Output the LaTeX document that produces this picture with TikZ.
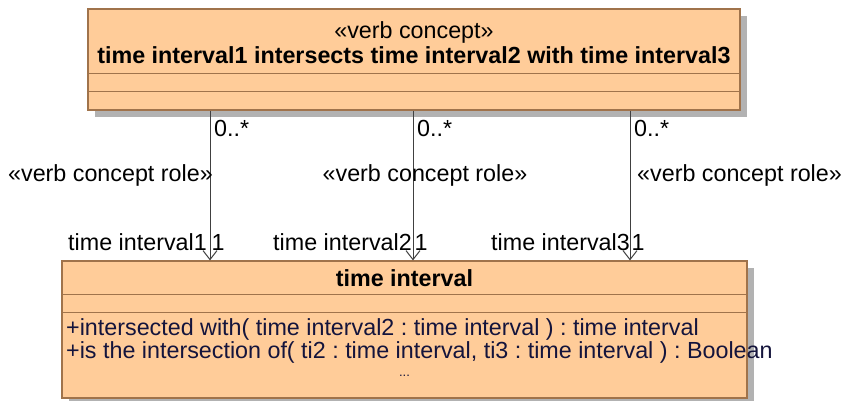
\documentclass[tikz,border=0pt]{standalone}
\usepackage{fontspec}
\setmainfont{Liberation Sans}
\usetikzlibrary{arrows.meta,shadows}
\definecolor{umlfill}{RGB}{255,204,153}
\definecolor{umlline}{RGB}{160,115,75}
\definecolor{umlshadow}{RGB}{178,178,178}
\definecolor{optext}{RGB}{20,20,60}
\definecolor{wire}{RGB}{64,64,64}
\frenchspacing
\begin{document}
\begin{tikzpicture}[x=1pt, y=-1pt,
		classbox/.style={rectangle, draw=umlline, line width=1.2pt, fill=umlfill, inner sep=0pt,
			drop shadow={shadow xshift=7pt, shadow yshift=-7pt, fill=umlshadow, opacity=1}},
		sep/.style={draw=umlline, line width=1.2pt},
		assoc/.style={draw=wire, line width=1pt, -{Straight Barb[length=9pt, width=14pt]}},
		lbl/.style={inner sep=0pt, font=\fontsize{23.3}{26}\selectfont},
		lblb/.style={inner sep=0pt, font=\fontsize{23.3}{26}\selectfont\bfseries},
		oplbl/.style={inner sep=0pt, anchor=west, text=optext, font=\fontsize{23.3}{26}\selectfont}
		]
		\useasboundingbox (0,0) rectangle (841,400);
		
		% verb concept class on top
		\node[classbox, minimum width=652pt, minimum height=101pt] (vc) at (414,59.5) {};
		\draw[sep] ([yshift=-65pt]vc.north west) -- ([yshift=-65pt]vc.north east);
		\draw[sep] ([yshift=-83pt]vc.north west) -- ([yshift=-83pt]vc.north east);
		\node[lbl] (vcst) at (414,32) {«verb concept»};
		\node[lblb] (vcname) at (414,55) {time interval1 intersects time interval2 with time interval3};
		
		% time interval class below
		\node[classbox, minimum width=685pt, minimum height=137pt] (ti) at (404.5,329.5) {};
		\draw[sep] ([yshift=-34pt]ti.north west) -- ([yshift=-34pt]ti.north east);
		\draw[sep] ([yshift=-52pt]ti.north west) -- ([yshift=-52pt]ti.north east);
		\node[lblb] (tiname) at (404.5,278) {time interval};
		\node[oplbl] (op1) at (66,329) {+intersected with( time interval2 : time interval ) : time interval};
		\node[oplbl] (op2) at (66,352) {+is the intersection of( ti2 : time interval, ti3 : time interval ) : Boolean};
		\node[inner sep=0pt, font=\fontsize{13}{15}\selectfont, text=optext] (more) at (404.5,376) {...};
		
		% role associations
		\coordinate (r1) at (210,0);
		\coordinate (r2) at (413,0);
		\coordinate (r3) at (630,0);
		\draw[assoc] (r1 |- vc.south) -- (r1 |- ti.north);
		\draw[assoc] (r2 |- vc.south) -- (r2 |- ti.north);
		\draw[assoc] (r3 |- vc.south) -- (r3 |- ti.north);
		
		% multiplicities and role names
		\node[lbl, anchor=west] (m1) at (214,128) {0..*};
		\node[lbl, anchor=west] (m2) at (417,128) {0..*};
		\node[lbl, anchor=west] (m3) at (634,128) {0..*};
		\node[lbl, anchor=east] (s1) at (213,175) {«verb concept role»};
		\node[lbl] (s2) at (425,175) {«verb concept role»};
		\node[lbl, anchor=west] (s3) at (637,175) {«verb concept role»};
		\node[lbl, anchor=east] (n1) at (207,242) {time interval1};
		\node[lbl, anchor=east] (n2) at (412,242) {time interval2};
		\node[lbl, anchor=east] (n3) at (630,242) {time interval3};
		\node[lbl] (c1) at (218,242) {1};
		\node[lbl] (c2) at (421,242) {1};
		\node[lbl] (c3) at (638,242) {1};
	\end{tikzpicture}
\end{document}
